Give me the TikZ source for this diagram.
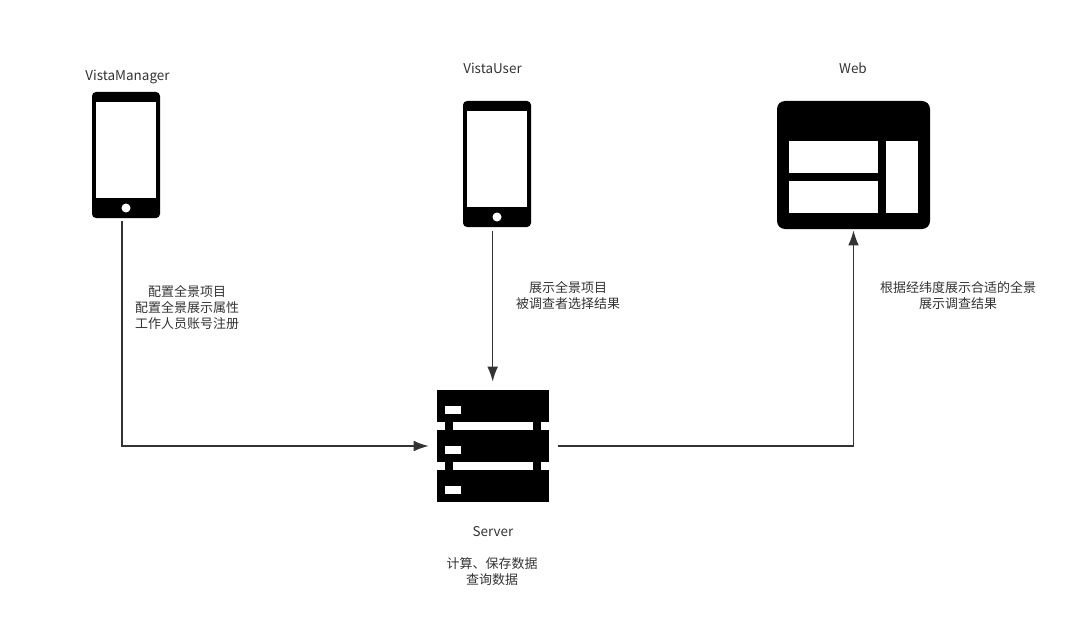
\documentclass[tikz,border=0pt]{standalone}
\usepackage{fontspec}
\setmainfont{Noto Sans CJK SC}
\definecolor{inkgray}{HTML}{333333}
\tikzset{
  phone/.style={fill=black,rounded corners=3pt,minimum width=51pt,minimum height=94.5pt,inner sep=0pt},
  webpage/.style={fill=black,rounded corners=6pt,minimum width=114.75pt,minimum height=96pt,inner sep=0pt},
  rack/.style={fill=black,minimum width=84pt,minimum height=84pt,inner sep=0pt},
  caption/.style={text=inkgray,font=\fontsize{9.75pt}{12pt}\selectfont,align=center},
  appname/.style={text=inkgray,font=\fontsize{10.1pt}{12pt}\selectfont,align=center},
  link/.style={draw=inkgray,line width=1.2pt,-{Latex[length=11.25pt,width=8pt]}}
}
\usetikzlibrary{arrows.meta}
\begin{document}
\begin{tikzpicture}[x=0.75pt,y=-0.75pt]
\useasboundingbox (0,0) rectangle (1070,638);
\node[phone] (mgr) at (126,155) {};
\node[phone] (usr) at (497,164) {};
\node[webpage] (web) at (853.5,165) {};
\node[rack] (srv) at (493,446) {};
% phone screens and buttons
\fill[white] (96,102) rectangle (156,198);
\fill[white] (126,208) circle (4.5);
\fill[white] (467,111) rectangle (527,207);
\fill[white] (497,217) circle (4.5);
% web panes
\fill[white] (789,141) rectangle (878,173);
\fill[white] (789,181) rectangle (878,213);
\fill[white] (886,141) rectangle (918,213);
% server slots
\foreach \y in {422,462} {
  \fill[white] (437,\y) rectangle (445,\y+8);
  \fill[white] (453,\y) rectangle (533,\y+8);
  \fill[white] (541,\y) rectangle (549,\y+8);
}
\foreach \y in {406,446,486} {\fill[white] (445,\y) rectangle (461,\y+8);}
% links
\draw[link,shorten <=2.25pt,shorten >=6pt] ([xshift=-3pt]mgr.south) |- (srv.west);
\draw[link,shorten <=3pt,shorten >=6pt] ([xshift=-.25pt]usr.south -| srv.north) -- ([xshift=-.25pt]srv.north);
\draw[link,shorten <=6.75pt,shorten >=.75pt] (srv.east) -| (web.south);
% texts
\node[appname] (mgrname) at (127.5,76.5) {VistaManager};
\node[appname] (usrname) at (492.5,68.5) {VistaUser};
\node[appname] (webname) at (853,68.5) {Web};
\node[appname] (srvname) at (493,531.5) {Server};
\node[caption] (mgrtext) at (187,308) {配置全景项目\\配置全景展示属性\\工作人员账号注册};
\node[caption] (usrtext) at (568,295.5) {展示全景项目\\被调查者选择结果};
\node[caption] (webtext) at (958,295.5) {根据经纬度展示合适的全景\\展示调查结果};
\node[caption] (srvtext) at (492,572) {计算、保存数据\\查询数据};
\end{tikzpicture}
\end{document}
